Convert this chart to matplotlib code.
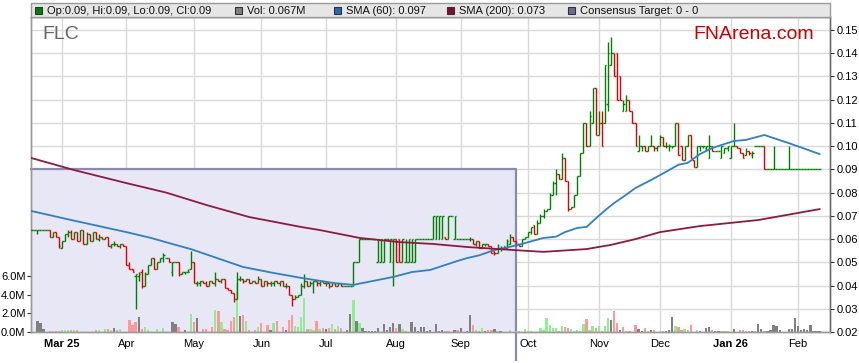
import numpy as np
import pandas as pd
import matplotlib
matplotlib.use('Agg')
import matplotlib.pyplot as plt
from matplotlib.patches import Rectangle
from matplotlib.lines import Line2D

plt.rcParams['font.family'] = ['Liberation Sans', 'DejaVu Sans']

# trading days (weekdays) shown on the chart
dates = pd.bdate_range('2025-02-17', '2026-02-11')

# prices in 0.001 units, one row per week
opens = [
    64, 64, 64, 64, 64,  64, 64, 61, 63, 61,  56, 59, 62, 63, 60,  63, 59, 64, 58, 62,
    59, 63, 60, 61, 60,  61, 57, 58, 58, 57,  58, 57, 49, 47, 44,  44, 46, 40, 45, 49,
    52, 47, 50, 52, 52,  52, 46, 50, 50, 45,  46, 46, 47, 50, 41,  41, 42, 41, 40, 42,
    41, 43, 42, 43, 39,  38, 37, 34, 43, 43,  42, 43, 41, 42, 41,  43, 40, 42, 41, 41,
    42, 41, 42, 40, 40,  36, 34, 35, 36, 40,  42, 40, 41, 42, 41,  42, 41, 41, 40, 41,
    40, 41, 40, 40, 40,  40, 50, 50, 60, 60,  60, 60, 60, 50, 50,  50, 60, 50, 50, 60,
    60, 50, 50, 50, 50,  50, 60, 60, 60, 60,  60, 60, 60, 60, 60,  61, 60, 70, 60, 60,
    60, 60, 60, 60, 60,  58, 59, 56, 58, 58,  57, 55, 54, 56, 56,  56, 58, 61, 59, 58,
    57, 60, 61, 63, 66,  62, 67, 70, 72, 73,  79, 84, 88, 86, 95,  85, 73, 74, 79, 87,
    97, 110, 100, 110, 125,  105, 110, 110, 118, 135,  140, 140, 130, 115, 115,
    120, 115, 110, 98, 100,  100, 98, 100, 100, 99,  100, 104, 100, 100, 100,
    100, 110, 100, 94, 100,  105, 94, 91, 100, 100,  99, 95, 100, 98, 98,
    95, 97, 99, 95, 100,  100, 99, 97, 96, 98,  96, 100, 100, 100, 100,
    90, 90, 90, 90, 90,  90, 90, 90, 90, 90,  90, 90, 90, 90, 90,  90, 90, 90,
]
highs = [
    64, 64, 64, 64, 64,  64, 64, 63, 63, 61,  59, 62, 64, 64, 63,  63, 64, 64, 63, 62,
    63, 63, 62, 61, 61,  61, 58, 59, 58, 58,  58, 57, 50, 47, 45,  46, 47, 46, 49, 52,
    52, 50, 52, 54, 52,  52, 50, 50, 50, 46,  46, 47, 55, 50, 42,  42, 42, 42, 42, 42,
    46, 43, 43, 43, 39,  38, 37, 46, 44, 43,  43, 43, 42, 42, 44,  43, 42, 42, 42, 42,
    42, 42, 42, 41, 40,  36, 36, 36, 41, 45,  42, 42, 42, 42, 42,  42, 42, 41, 41, 41,
    41, 41, 40, 40, 40,  50, 50, 60, 60, 60,  60, 60, 60, 60, 60,  60, 60, 60, 60, 60,
    60, 60, 60, 60, 60,  60, 60, 60, 60, 60,  60, 70, 70, 70, 70,  61, 70, 70, 70, 60,
    60, 60, 60, 61, 60,  59, 59, 58, 58, 58,  57, 55, 58, 57, 57,  60, 62, 61, 59, 58,
    60, 61, 63, 65, 66,  68, 71, 73, 73, 80,  85, 90, 88, 97, 95,  85, 74, 79, 87, 97,
    110, 110, 115, 125, 125,  115, 115, 135, 145, 147,  140, 140, 130, 120, 122,
    120, 115, 110, 105, 100,  100, 100, 105, 100, 100,  105, 104, 102, 101, 100,
    110, 110, 100, 100, 105,  105, 94, 100, 100, 100,  100, 105, 100, 98, 98,
    100, 99, 100, 100, 110,  100, 99, 97, 99, 98,  98, 100, 100, 100, 100,
    90, 90, 100, 90, 90,  90, 90, 100, 90, 90,  90, 90, 90, 90, 90,  90, 90, 90,
]
lows = [
    64, 64, 62, 64, 64,  64, 61, 61, 61, 56,  56, 59, 61, 60, 60,  59, 59, 58, 58, 59,
    59, 60, 59, 60, 60,  57, 56, 57, 57, 56,  57, 49, 47, 46, 30,  42, 39, 40, 45, 49,
    47, 47, 50, 50, 52,  50, 44, 50, 44, 45,  45, 46, 47, 41, 40,  40, 41, 40, 40, 41,
    40, 42, 41, 39, 38,  37, 33, 34, 42, 41,  42, 41, 41, 41, 41,  40, 40, 40, 40, 40,
    41, 40, 40, 39, 36,  31, 34, 35, 36, 39,  40, 40, 37, 40, 40,  41, 40, 39, 40, 40,
    40, 40, 40, 40, 40,  40, 50, 50, 60, 60,  60, 60, 60, 50, 50,  50, 60, 50, 40, 50,
    50, 50, 50, 50, 50,  50, 60, 60, 60, 60,  60, 60, 60, 60, 60,  60, 60, 70, 60, 60,
    60, 60, 60, 59, 58,  57, 56, 56, 57, 57,  54, 53, 54, 55, 56,  56, 58, 59, 57, 57,
    57, 60, 61, 62, 62,  62, 67, 69, 72, 73,  79, 79, 86, 86, 85,  72, 73, 74, 79, 87,
    97, 100, 100, 110, 105,  105, 100, 110, 115, 135,  130, 120, 120, 115, 115,
    115, 110, 100, 98, 98,  98, 98, 100, 98, 98,  100, 100, 99, 98, 99,
    100, 96, 94, 94, 100,  95, 91, 91, 98, 99,  98, 95, 98, 98, 98,
    95, 97, 98, 95, 100,  99, 97, 95, 96, 96,  95, 100, 100, 100, 90,
    90, 90, 90, 90, 90,  90, 90, 90, 90, 90,  90, 90, 90, 90, 90,  90, 90, 90,
]
closes = [
    64, 64, 64, 64, 64,  64, 61, 63, 61, 57,  59, 62, 63, 60, 63,  59, 64, 58, 62, 59,
    63, 60, 61, 60, 61,  57, 58, 58, 57, 58,  57, 49, 47, 46, 45,  45, 40, 45, 49, 52,
    47, 50, 52, 53, 52,  50, 50, 50, 45, 46,  46, 46, 50, 41, 41,  42, 41, 40, 42, 41,
    43, 42, 43, 39, 38,  37, 34, 43, 43, 42,  43, 41, 42, 41, 43,  40, 42, 41, 41, 42,
    41, 42, 40, 40, 36,  34, 35, 36, 40, 42,  40, 41, 42, 41, 42,  41, 41, 40, 41, 40,
    41, 40, 40, 40, 40,  50, 50, 60, 60, 60,  60, 60, 60, 60, 60,  60, 60, 60, 60, 50,
    50, 60, 50, 60, 60,  60, 60, 60, 60, 60,  60, 70, 70, 70, 70,  60, 70, 70, 70, 60,
    60, 60, 60, 60, 58,  59, 56, 58, 58, 57,  54, 54, 56, 56, 57,  59, 61, 59, 58, 57,
    60, 61, 63, 65, 62,  67, 70, 72, 73, 79,  84, 88, 86, 95, 85,  73, 74, 79, 87, 97,
    110, 100, 113, 125, 105,  110, 100, 135, 140, 140,  130, 120, 120, 118, 120,
    115, 110, 100, 100, 100,  98, 100, 100, 99, 100,  104, 100, 100, 100, 100,
    110, 96, 94, 100, 105,  95, 91, 100, 100, 100,  100, 100, 98, 98, 98,
    100, 99, 100, 100, 100,  99, 97, 95, 98, 97,  97, 100, 100, 100, 90,
    90, 90, 90, 90, 90,  90, 90, 90, 90, 90,  90, 90, 90, 90, 90,  90, 90, 90,
]
# volume in thousands of shares
volumes = [
    360, 0, 1200, 1000, 300,  0, 150, 150, 150, 150,  200, 200, 200, 200, 200,  200, 0, 0, 0, 0,
    0, 200, 200, 0, 300,  300, 200, 400, 200, 300,  0, 0, 1300, 800, 1100,  1600, 300, 500, 200, 0,
    0, 300, 0, 400, 0,  0, 1100, 900, 500, 0,  200, 0, 1900, 1100, 1450,  0, 300, 300, 0, 500,
    2400, 2200, 1100, 300, 200,  1200, 1600, 5300, 1700, 1800,  1200, 200, 0, 200, 500,  1000, 0, 700, 200, 1000,
    1200, 0, 550, 200, 1300,  1800, 600, 500, 1600, 3700,  300, 300, 200, 1200, 350,  400, 300, 400, 900, 300,
    600, 400, 0, 250, 1900,  3450, 1200, 1000, 400, 100,  100, 100, 100, 400, 0,  850, 200, 500, 1000, 400,
    850, 300, 100, 0, 1100,  500, 100, 500, 500, 100,  250, 0, 850, 100, 250,  100, 100, 0, 250, 250,
    400, 0, 100, 1800, 800,  200, 100, 400, 100, 200,  250, 350, 80, 80, 0,  0, 250, 0, 80, 150,
    0, 350, 100, 80, 0,  0, 450, 250, 1450, 700,  400, 450, 100, 600, 550,  400, 350, 100, 250, 100,
    850, 1400, 250, 600, 450,  600, 80, 600, 1450, 1300,  2200, 1000, 250, 550, 100,
    100, 0, 700, 300, 80,  450, 80, 250, 250, 0,  80, 80, 80, 250, 1600,
    600, 550, 250, 350, 200,  700, 0, 200, 150, 0,  450, 550, 250, 80, 80,
    80, 80, 80, 0, 350,  0, 250, 250, 150, 80,  80, 80, 900, 350, 150,
    150, 250, 700, 600, 200,  0, 0, 350, 350, 1450,  600, 250, 350, 250, 800,  100, 100, 67,
]

# moving averages (0.001 units)
sma60_dates = ['2025-02-17', '2025-03-06', '2025-04-01', '2025-04-11', '2025-04-23', '2025-04-30',
               '2025-05-23', '2025-06-06', '2025-06-19', '2025-07-04', '2025-07-14', '2025-07-31',
               '2025-08-08', '2025-08-18', '2025-08-21', '2025-08-29', '2025-09-03', '2025-09-09',
               '2025-09-16', '2025-09-19', '2025-09-30', '2025-10-08', '2025-10-14', '2025-10-17',
               '2025-10-23', '2025-10-28', '2025-11-03', '2025-11-06', '2025-11-10', '2025-11-13',
               '2025-11-19', '2025-11-26', '2025-12-03', '2025-12-09', '2025-12-12', '2025-12-18',
               '2025-12-24', '2026-01-02', '2026-01-08', '2026-01-16', '2026-01-28', '2026-02-11']
sma60_vals = [72.1, 68.2, 63.0, 60.5, 57.5, 55.7,
              48.0, 45.4, 43.3, 41.0, 40.3, 43.7,
              45.8, 46.7, 48.0, 50.6, 51.8, 53.0,
              55.3, 56.0, 58.3, 60.5, 61.0, 63.0,
              64.8, 65.2, 70.0, 73.4, 75.5, 78.2,
              82.0, 85.4, 89.0, 92.0, 92.8, 96.6,
              99.2, 102.2, 102.7, 104.8, 101.3, 96.6]
sma200_dates = ['2025-02-17', '2025-03-07', '2025-04-01', '2025-04-18', '2025-05-07', '2025-05-27',
                '2025-06-19', '2025-06-27', '2025-07-16', '2025-08-04', '2025-08-19', '2025-09-03',
                '2025-09-24', '2025-10-08', '2025-10-28', '2025-11-07', '2025-11-19', '2025-12-01',
                '2025-12-18', '2026-01-14', '2026-02-11']
sma200_vals = [94.9, 89.7, 84.1, 80.0, 74.7, 69.5,
               65.2, 63.9, 60.5, 58.7, 57.9, 56.6,
               55.3, 54.5, 55.7, 57.5, 60.0, 63.0,
               65.6, 68.2, 72.9]

target_end = '2025-09-25'
target_price = 0.09

price_ticks = [0.02, 0.03, 0.04, 0.05, 0.06, 0.07, 0.08, 0.09, 0.10, 0.11, 0.12, 0.13, 0.14, 0.15]
vol_ticks = [0, 2, 4, 6]

# ---- data prep
o = np.array(opens) / 1000
h = np.array(highs) / 1000
l = np.array(lows) / 1000
c = np.array(closes) / 1000
v = np.array(volumes) / 1000
x = np.arange(len(dates))

bar_col = np.where(c >= o, '#008000', '#dd0000')
prev = np.concatenate([[c[0]], c[:-1]])
vol_col = np.where(c > prev, '#90ee90', np.where(c < prev, '#ff9999', '#808080'))

W, H = 859, 363
fig = plt.figure(figsize=(W / 100, H / 100), dpi=100)
ax = fig.add_axes([31 / W, 1 - 332 / H, 799 / W, 315 / H])
axp = ax.twinx()

x0, x1 = -0.1, 260.4
grid_c = '#d9d9d9'

# month ticks / vertical grid
month_idx, month_lab = [], []
for i, d in enumerate(dates):
    if i == 0 or d.month == dates[i - 1].month:
        continue
    month_idx.append(i)
    month_lab.append(d.strftime('%b %y') if (d.month == 1 or not month_lab) else d.strftime('%b'))
ax.set_xticks(month_idx)
ax.set_xticklabels(month_lab, fontsize=8)
for t in ax.get_xticklabels():
    if ' ' in t.get_text():
        t.set_fontweight('bold')
ax.grid(axis='x', color=grid_c, lw=1)
ax.set_axisbelow(True)
ax.tick_params(axis='x', length=0, pad=5)

# horizontal price grid, drawn under the volume bars
for p in price_ticks:
    ax.add_line(Line2D([x0, x1], [p, p], transform=axp.transData, color=grid_c, lw=1, zorder=0.6))

# consensus target box
bx = dates.get_loc(pd.Timestamp(target_end))
ax.add_patch(Rectangle((x0, 0.0), bx - x0, target_price, transform=axp.transData,
                       fc='#e7e7f6', ec='none', zorder=1))
ax.add_line(Line2D([x0, bx, bx], [target_price, target_price, 0.008], transform=axp.transData,
                   color='#8a8ab0', lw=1.6, zorder=1.5, clip_on=False))

# volume
ax.bar(x, v, width=0.75, color=vol_col, zorder=2)
ax.set_ylim(0, 33.8)
ax.set_yticks(vol_ticks)
ax.set_yticklabels([f'{t:.1f}M' for t in vol_ticks], fontsize=8)
ax.tick_params(axis='y', length=3, pad=1, color='#333333')

# OHLC bars
axp.vlines(x, l, h, colors=bar_col, lw=1.0, zorder=3)
axp.hlines(o, x - 0.5, x, colors=bar_col, lw=1.0, zorder=3)
axp.hlines(c, x, x + 0.5, colors=bar_col, lw=1.0, zorder=3)

# moving averages
i60 = dates.get_indexer(pd.to_datetime(sma60_dates))
i200 = dates.get_indexer(pd.to_datetime(sma200_dates))
axp.plot(i60, np.array(sma60_vals) / 1000, color='#2f80c4', lw=1.3, zorder=4)
axp.plot(i200, np.array(sma200_vals) / 1000, color='#8e1b3f', lw=1.3, zorder=4)

axp.set_ylim(0.02, 0.1556)
axp.set_yticks(price_ticks)
axp.set_yticklabels([f'{p:.2f}' for p in price_ticks], fontsize=8)
axp.tick_params(axis='y', length=3, pad=2, color='#333333')
ax.set_xlim(x0, x1)

for a in (ax, axp):
    for s in a.spines.values():
        s.set_color('#9a9a9a')
        s.set_linewidth(1)
axp.spines['right'].set_color('#666666')

# legend strip on top
def fx(px):
    return px / W

def fy(py):
    return 1 - py / H

fig.add_artist(Rectangle((fx(31), fy(17)), 799 / W, 14 / H, transform=fig.transFigure,
                         fc='#e6e6e6', ec='#9a9a9a', lw=1))
legend_items = [
    (35, '#008000', f'Op:{o[-1]:.2f}, Hi:{h[-1]:.2f}, Lo:{l[-1]:.2f}, Cl:{c[-1]:.2f}'),
    (235, '#808080', f'Vol: {v[-1]:.3f}M'),
    (334, '#1f6db5', f'SMA (60): {sma60_vals[-1] / 1000:.3f}'),
    (447, '#7d1030', f'SMA (200): {sma200_vals[-1] / 1000:.3f}'),
    (568, '#6a6a96', 'Consensus Target: 0 - 0'),
]
for lx, col, txt in legend_items:
    fig.add_artist(Rectangle((fx(lx), fy(14)), 7 / W, 7 / H, transform=fig.transFigure,
                             fc=col, ec='#333333', lw=0.8))
    fig.text(fx(lx + 12), fy(10.5), txt, fontsize=8, va='center', ha='left', color='#111111')

fig.text(fx(42), fy(39), 'FLC', fontsize=14, color='#666666', va='baseline')
fig.text(fx(693), fy(39), 'FNArena.com', fontsize=14, color='#cc0000', va='baseline')

fig.savefig('out.png', dpi=100)
